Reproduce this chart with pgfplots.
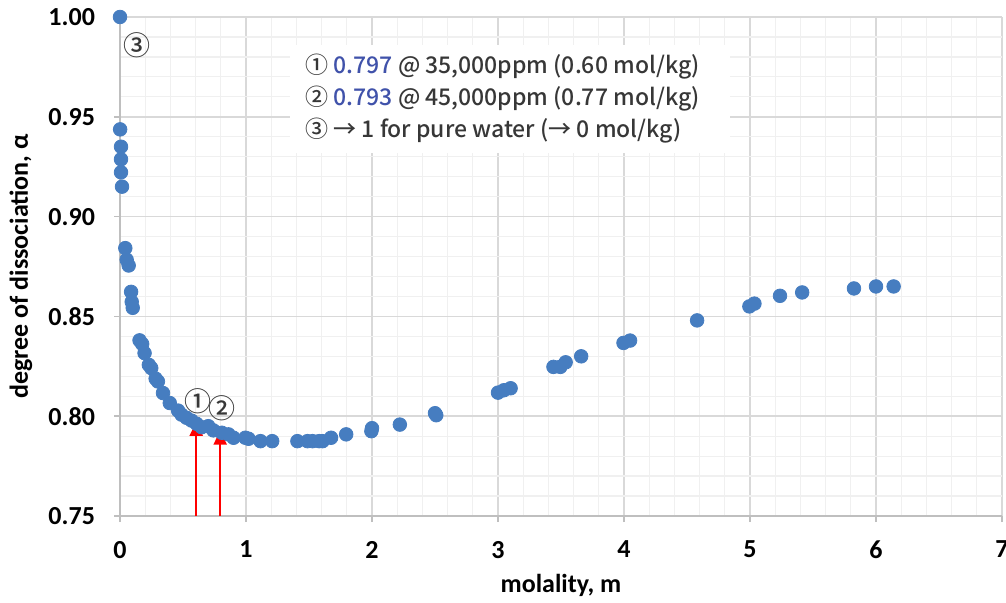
\documentclass[border=0pt]{standalone}
\usepackage{fontspec}
\setmainfont{Carlito}
\newfontfamily\notefont{Noto Sans CJK JP Medium}
\usepackage{pgfplots}
\pgfplotsset{compat=1.18}
\usetikzlibrary{arrows.meta}

\definecolor{ptblue}{RGB}{70,125,192}
\definecolor{numblue}{RGB}{64,82,170}
\definecolor{notegray}{RGB}{55,55,55}
\definecolor{majgrid}{RGB}{217,217,217}
\definecolor{mingrid}{RGB}{240,240,240}
\definecolor{axgray}{RGB}{191,191,191}

\begin{document}
\begin{tikzpicture}
\begin{axis}[
    name=main,
    scale only axis,
    width=441pt, height=249.5pt,
    xmin=0, xmax=7, ymin=0.75, ymax=1.00,
    xtick={0,1,...,7},
    ytick={0.75,0.80,...,1.00},
    minor x tick num=4,
    minor y tick num=4,
    grid=both,
    major grid style={majgrid, line width=0.8pt},
    minor grid style={mingrid, line width=0.6pt},
    axis x line=bottom, axis y line=left,
    axis line style={axgray, line width=1pt, -},
    tick align=outside,
    major tick length=3pt, minor tick length=0pt,
    tick style={axgray, line width=0.8pt},
    /pgf/number format/assume math mode=true,
    y tick label style={/pgf/number format/fixed, /pgf/number format/fixed zerofill, /pgf/number format/precision=2, xshift=-6pt},
    ticklabel style={font=\bfseries\fontsize{13}{15}\selectfont, text=black},
    x tick label style={yshift=-6pt},
    xlabel={molality, m},
    ylabel={degree of dissociation, α},
    label style={font=\bfseries\fontsize{13}{15}\selectfont},
    xlabel style={at={(axis description cs:0.5,-0.1383)}, anchor=center},
    ylabel style={at={(axis description cs:-0.1122,0.5)}, anchor=center},
    clip=false,
]
\addplot[only marks, mark=*, mark size=3.4pt, color=ptblue] coordinates {
    (0.000,1.000)
    (0.001,0.9437) (0.008,0.9350) (0.008,0.9287) (0.008,0.9222) (0.016,0.9150)
    (0.042,0.8842) (0.053,0.8784) (0.069,0.8755)
    (0.088,0.8623) (0.093,0.8573) (0.101,0.8543)
    (0.155,0.8380) (0.176,0.8362) (0.195,0.8316) (0.229,0.8257) (0.248,0.8241)
    (0.283,0.8188) (0.301,0.8174) (0.341,0.8116) (0.395,0.8066) (0.461,0.8028)
    (0.488,0.8008) (0.528,0.7992) (0.568,0.7978) (0.608,0.7962) (0.648,0.7945)
    (0.701,0.7950) (0.741,0.7929) (0.808,0.7917) (0.861,0.7909) (0.901,0.7892)
    (0.995,0.7892) (1.020,0.7887) (1.115,0.7875) (1.208,0.7875)
    (1.408,0.7875) (1.488,0.7875) (1.528,0.7875) (1.581,0.7875) (1.608,0.7875)
    (1.675,0.7892) (1.795,0.7909) (1.995,0.7925) (2.000,0.7940) (2.221,0.7958)
    (2.500,0.8015) (2.510,0.8005)
    (3.000,0.8118) (3.046,0.8130) (3.100,0.8140)
    (3.440,0.8247) (3.495,0.8247) (3.537,0.8270) (3.660,0.8300)
    (3.996,0.8367) (4.048,0.8379) (4.580,0.8480)
    (4.995,0.8550) (5.035,0.8564) (5.238,0.8603) (5.414,0.8620)
    (5.825,0.8640) (6.000,0.8650) (6.140,0.8650)
};
% arrows for 35,000 and 45,000 ppm
\draw[red, line width=1pt, -{Triangle[width=6.5pt,length=7pt]}] (axis cs:0.605,0.75) -- (axis cs:0.605,0.7972);
\draw[red, line width=1pt, -{Triangle[width=6.5pt,length=7pt]}] (axis cs:0.795,0.75) -- (axis cs:0.795,0.7928);
% circled labels
\node[text=notegray, font=\notefont\fontsize{13.5}{15}\selectfont] at (axis cs:0.621,0.8075) {①};
\node[text=notegray, font=\notefont\fontsize{13.5}{15}\selectfont] at (axis cs:0.808,0.8042) {②};
\node[text=notegray, font=\notefont\fontsize{13.5}{15}\selectfont] at (axis cs:0.135,0.9860) {③};
% note box
\fill[white] (axis cs:1.35,0.986) rectangle (axis cs:4.84,0.932);
\node[anchor=west, text=notegray, font=\notefont\fontsize{11.5}{13}\selectfont, inner sep=0pt] at (axis cs:1.468,0.9750) {① {\color{numblue}0.797} @ 35,000ppm (0.60 mol/kg)};
\node[anchor=west, text=notegray, font=\notefont\fontsize{11.5}{13}\selectfont, inner sep=0pt] at (axis cs:1.468,0.9590) {② {\color{numblue}0.793} @ 45,000ppm (0.77 mol/kg)};
\node[anchor=west, text=notegray, font=\notefont\fontsize{11.5}{13}\selectfont, inner sep=0pt] at (axis cs:1.468,0.9430) {③ → 1 for pure water (→ 0 mol/kg)};
\end{axis}
\pgfresetboundingbox
\path ([shift={(-60pt,-43pt)}]main.south west) rectangle ([shift={(2pt,8.5pt)}]main.north east);
\end{tikzpicture}
\end{document}
